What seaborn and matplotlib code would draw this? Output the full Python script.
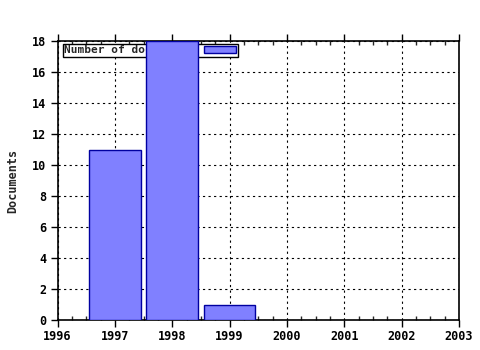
import matplotlib
matplotlib.use("Agg")
import matplotlib.pyplot as plt
import seaborn as sns
import pandas as pd
from matplotlib.ticker import MultipleLocator

years = [1997, 1998, 1999]
documents = [11, 18, 1]
series_label = "Number of documents"
xtick_labels = ["1996", "1997", "1998", "1999", "2000", "2001", "2002", "2003"]

sns.set_style("white")
plt.rcParams['font.family'] = ['DejaVu Sans Mono']
plt.rcParams['font.weight'] = 'bold'

df = pd.DataFrame({"year": years, "docs": documents})

fig = plt.figure(figsize=(4.8, 3.5), dpi=100)
ax = fig.add_axes([57.5/480, 30/350, (459-57.5)/480, (320-41)/350])

sns.barplot(data=df, x="year", y="docs", native_scale=True, width=0.9,
            color="#8080FF", saturation=1, edgecolor="#0000A0", linewidth=1,
            label=series_label, ax=ax, zorder=3)

ax.set_xlim(1996, 2003)
ax.set_ylim(0, 18)
ax.xaxis.set_major_locator(MultipleLocator(1))
ax.xaxis.set_minor_locator(MultipleLocator(0.25))
ax.yaxis.set_major_locator(MultipleLocator(2))
ax.set_xlabel("")
ax.set_ylabel("Documents", fontsize=8.5, fontweight="bold", labelpad=9)

ax.grid(True, which="major", color="black", linestyle=(0, (2, 3)), linewidth=0.8, zorder=1)
ax.set_axisbelow(True)

for s in ax.spines.values():
    s.set_color("black")
    s.set_linewidth(1.2)
    s.set_visible(True)

ax.tick_params(axis="x", which="major", direction="out", length=5, width=1,
               top=True, bottom=True, labelsize=8.5, colors="black", pad=2)
ax.tick_params(axis="x", which="minor", direction="in", length=3, width=1,
               top=True, bottom=True)
ax.tick_params(axis="y", which="major", direction="out", length=5, width=1,
               left=True, right=False, labelsize=8.5, colors="black", pad=3)
ax.set_xticks([1996, 1997, 1998, 1999, 2000, 2001, 2002, 2003])
ax.set_xticklabels(xtick_labels, fontweight="bold", fontsize=8.5)
for lab in ax.get_yticklabels():
    lab.set_fontweight("bold")

leg = ax.legend(loc="upper left", bbox_to_anchor=(0.013, 0.99), markerfirst=False,
                fancybox=False, shadow=False, framealpha=1, edgecolor="black",
                borderpad=0.15, handlelength=2.9, handleheight=0.6, handletextpad=1.0,
                borderaxespad=0, prop={"size": 8, "weight": "bold"})
leg.get_frame().set_linewidth(1.0)
leg.set_zorder(2)

fig.savefig("out.png", dpi=100)
